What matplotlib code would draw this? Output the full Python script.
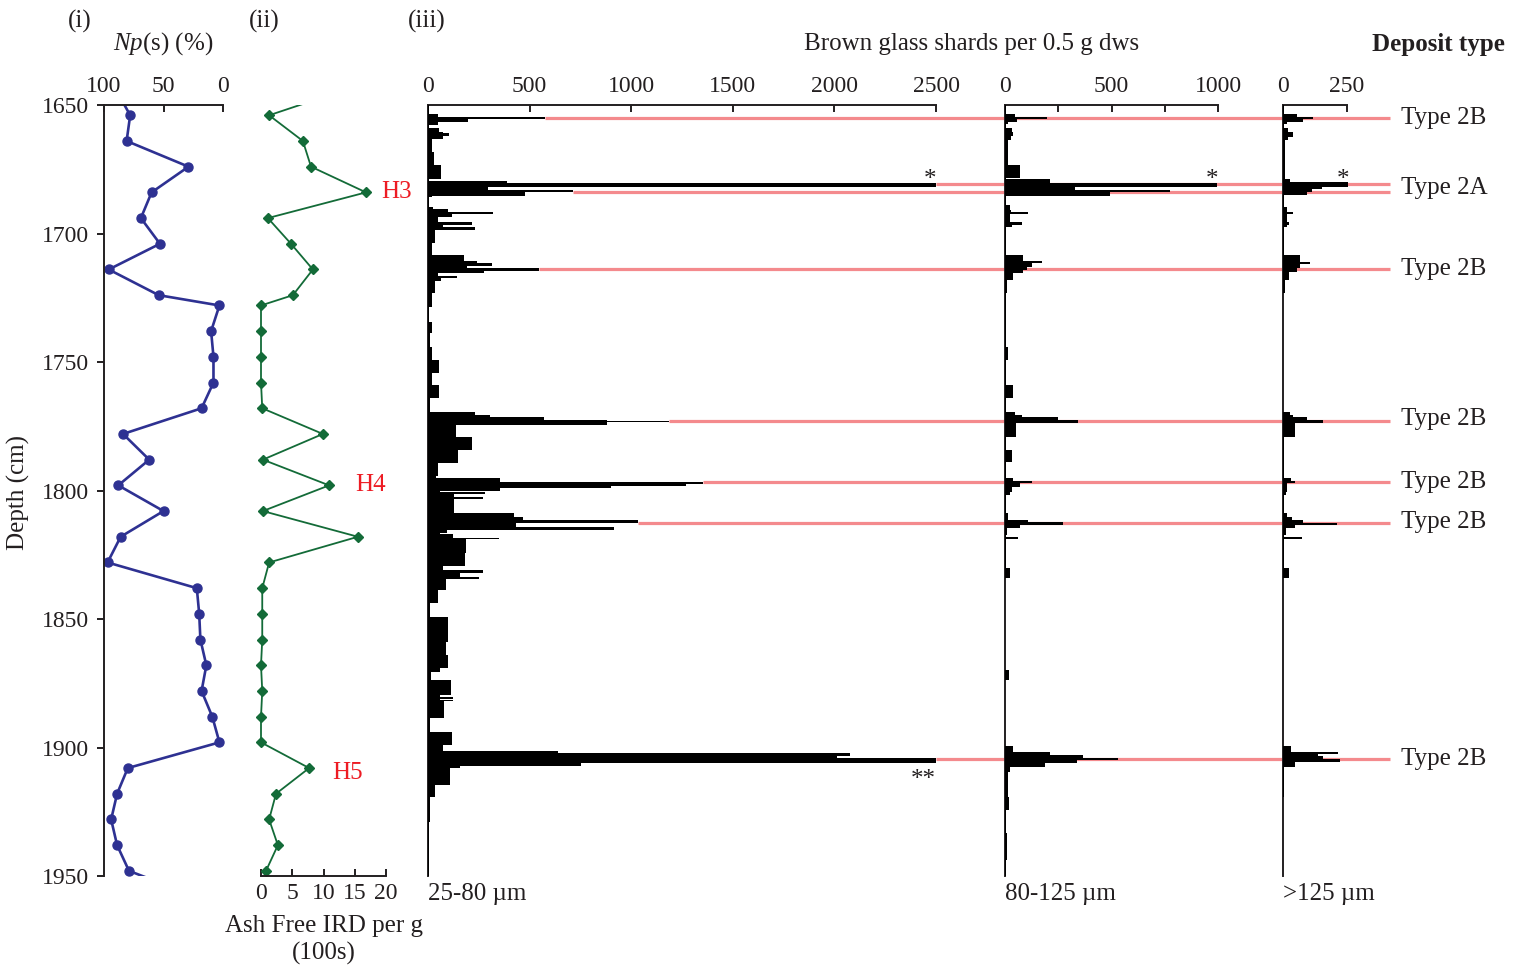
import numpy as np
import matplotlib
matplotlib.use('Agg')
import matplotlib.pyplot as plt
from matplotlib.transforms import blended_transform_factory
from matplotlib.patches import Rectangle

plt.rcParams['font.family'] = ['Liberation Serif', 'DejaVu Serif']
plt.rcParams['mathtext.fontset'] = 'custom'
plt.rcParams['mathtext.rm'] = 'Liberation Serif'
plt.rcParams['mathtext.it'] = 'Liberation Serif:italic'

# ---------------- data ----------------
np_depth = [1644, 1654, 1664, 1674, 1684, 1694, 1704, 1714, 1724, 1728, 1738, 1748, 1758,
            1768, 1778, 1788, 1798, 1808, 1818, 1828, 1838, 1848, 1858, 1868, 1878, 1888,
            1898, 1908, 1918, 1928, 1938, 1948, 1958]
np_percent = [90, 78, 81, 29, 60, 69, 53, 96, 54, 3, 10, 8, 8,
              18, 84, 62, 88, 50, 86, 97, 22, 20, 19, 14, 18, 9,
              3, 80, 89, 94, 89, 79, 23]

ird_depth = [1644, 1654, 1664, 1674, 1684, 1694, 1704, 1714, 1724, 1728, 1738, 1748, 1758,
             1768, 1778, 1788, 1798, 1808, 1818, 1828, 1838, 1848, 1858, 1868, 1878, 1888,
             1898, 1908, 1918, 1928, 1938, 1948]
ird_100s = [13.6, 1.3, 6.7, 8.0, 16.8, 1.1, 4.8, 8.3, 5.1, 0.0, 0.0, 0.0, 0.0,
            0.2, 9.9, 0.3, 10.9, 0.3, 15.5, 1.3, 0.2, 0.2, 0.2, 0.0, 0.2, 0.0,
            0.0, 7.7, 2.4, 1.3, 2.7, 0.8]

h_labels = ['H3', 'H4', 'H5']
h_depths = [1684, 1798, 1910]
h_xpos = [19.2, 15.0, 11.4]

# brown glass shards, 25-80 um  (bin top depth, count)
f1_top = [1650.0, 1653.5, 1654.5, 1655.6, 1656.6, 1657.8, 1659.1, 1660.4, 1661.0, 1662.1,
          1663.4, 1668.2, 1673.3, 1678.8, 1679.4, 1680.5, 1682.0, 1683.1, 1684.0, 1685.4,
          1685.9, 1689.6, 1690.6, 1691.6, 1692.5, 1693.4, 1695.4, 1696.7, 1697.6, 1698.6,
          1703.8, 1708.4, 1710.7, 1711.6, 1712.5, 1713.6, 1714.5, 1715.5, 1716.5, 1717.4,
          1718.4, 1723.3, 1728.5, 1734.3, 1738.8, 1744.0, 1749.2, 1754.4, 1758.9, 1764.1,
          1769.3, 1770.6, 1771.3, 1772.6, 1772.8, 1773.4, 1774.5, 1779.1, 1784.2, 1789.4,
          1794.4, 1795.3, 1796.6, 1797.5, 1798.2, 1799.2, 1800.1, 1800.5, 1801.4, 1802.4,
          1803.3, 1808.9, 1810.2, 1811.5, 1812.8, 1814.1, 1815.4, 1816.7, 1817.0, 1818.6,
          1819.0, 1824.4, 1829.4, 1830.9, 1832.2, 1833.5, 1834.3, 1838.7, 1843.9, 1849.1,
          1859.0, 1864.0, 1869.2, 1870.5, 1873.7, 1879.6, 1880.5, 1881.0, 1881.4, 1881.9,
          1888.6, 1894.0, 1899.0, 1901.2, 1902.3, 1903.3, 1904.2, 1906.2, 1907.2, 1908.1,
          1914.6, 1919.1, 1928.9]
f1_count = [3, 50, 576, 198, 50, 5, 54, 75, 103, 75,
            21, 28, 64, 5, 387, 2500, 297, 715, 477, 20,
            5, 26, 100, 321, 116, 48, 215, 75, 231, 34,
            21, 177, 240, 313, 190, 548, 277, 51, 141, 64,
            34, 21, 7, 18, 8, 21, 56, 21, 56, 10,
            230, 305, 572, 883, 1185, 883, 140, 215, 148, 50,
            37, 355, 1354, 1270, 900, 355, 60, 281, 130, 271,
            130, 422, 469, 1034, 432, 917, 93, 60, 121, 347,
            187, 183, 74, 271, 158, 252, 90, 50, 10, 97,
            90, 100, 60, 17, 115, 60, 123, 60, 123, 77,
            8, 117, 73, 642, 2079, 2013, 2500, 751, 158, 108,
            35, 8, 3]

# 80-125 um
f2_top = [1650.0, 1653.5, 1654.5, 1655.6, 1656.6, 1657.4, 1659.1, 1660.5, 1662.0, 1663.6,
          1673.3, 1678.5, 1678.9, 1680.2, 1681.8, 1683.1, 1684.0, 1685.4, 1688.9, 1690.9,
          1691.5, 1692.4, 1695.4, 1696.7, 1697.3, 1708.4, 1710.6, 1711.6, 1712.9, 1714.2,
          1715.5, 1718.1, 1723.3, 1744.0, 1749.2, 1758.9, 1764.1, 1769.3, 1770.6, 1771.5,
          1772.6, 1773.6, 1779.1, 1784.2, 1788.8, 1795.2, 1796.3, 1797.2, 1798.5, 1800.5,
          1801.8, 1808.9, 1811.5, 1812.3, 1813.4, 1814.7, 1817.3, 1817.9, 1818.9, 1830.3,
          1834.2, 1869.8, 1873.7, 1899.6, 1901.6, 1902.9, 1904.2, 1904.8, 1906.1, 1907.4,
          1909.4, 1919.1, 1924.3, 1933.4, 1943.8]
f2_count = [3, 47, 196, 55, 16, 5, 31, 39, 28, 16,
            70, 5, 211, 994, 329, 775, 493, 5, 23, 30,
            110, 23, 78, 31, 5, 83, 172, 125, 102, 86,
            39, 8, 3, 16, 5, 36, 5, 47, 78, 250,
            344, 52, 5, 31, 5, 39, 125, 70, 31, 23,
            5, 16, 110, 274, 70, 8, 3, 62, 3, 23,
            2, 20, 2, 39, 211, 368, 532, 336, 188, 23,
            16, 20, 3, 8, 3]

# >125 um
f3_top = [1650.0, 1653.5, 1654.5, 1655.6, 1656.6, 1657.4, 1659.1, 1660.7, 1662.3, 1663.6,
          1678.9, 1679.8, 1681.8, 1682.7, 1683.7, 1685.0, 1689.6, 1691.5, 1692.4, 1695.4,
          1696.7, 1697.3, 1708.4, 1711.0, 1711.9, 1713.6, 1714.9, 1718.1, 1723.3, 1769.3,
          1770.6, 1771.5, 1772.6, 1773.6, 1779.1, 1795.2, 1796.3, 1797.2, 1800.5, 1801.8,
          1808.9, 1810.2, 1811.5, 1812.5, 1813.4, 1814.7, 1817.3, 1817.9, 1818.9, 1830.3,
          1834.2, 1899.6, 1901.6, 1902.5, 1903.5, 1904.6, 1905.5, 1907.4, 1919.1]
f3_count = [3, 53, 118, 79, 17, 4, 21, 40, 21, 8,
            27, 255, 151, 112, 92, 4, 17, 38, 17, 25,
            14, 5, 66, 105, 66, 53, 25, 8, 1, 27,
            40, 92, 158, 47, 3, 30, 47, 17, 12, 3,
            14, 34, 79, 210, 47, 12, 3, 73, 3, 25,
            1, 30, 216, 138, 158, 221, 47, 4, 1]
bottom_depth = 1950.0

# cryptotephra events (red lines) and deposit types
event_depths = [1655.1, 1680.7, 1683.7, 1713.8, 1773.0, 1796.7, 1812.6, 1904.5]
deposit_labels = ['Type 2B', 'Type 2A', 'Type 2B', 'Type 2B', 'Type 2B', 'Type 2B', 'Type 2B']
deposit_depths = [1655.1, 1682.2, 1713.8, 1772.3, 1796.5, 1812.4, 1904.5]

# ---------------- figure ----------------
W, H = 1521, 971
fig = plt.figure(figsize=(W / 100, H / 100), dpi=100)
TXT = '#231f20'
FS = 17      # tick labels
LFS = 18     # other text
BLUE = '#2e3192'
GREEN = '#136b38'
RED_TXT = '#ed1c24'
RED_LINE = '#f48a8d'
SPW = 1.4

def fx(px):
    return px / W

def fy(py):
    return 1 - py / H

Y_TOP, Y_BOT = 105, 876

def add_ax(left, right):
    ax = fig.add_axes([fx(left), fy(Y_BOT), (right - left) / W, (Y_BOT - Y_TOP) / H])
    ax.set_facecolor('none')
    ax.set_ylim(1950, 1650)
    for s in ax.spines.values():
        s.set_linewidth(SPW)
        s.set_color(TXT)
    return ax

def vertical_clip(ax, artist):
    # clip only top/bottom (depth range), allow markers to overhang sideways
    tr = blended_transform_factory(ax.transAxes, ax.transAxes)
    rect = Rectangle((-0.5, 0), 2.0, 1.0, transform=tr, facecolor='none', edgecolor='none')
    artist.set_clip_path(rect)

# (i) Np(s)
ax1 = add_ax(104, 223)
l1, = ax1.plot(np_percent, np_depth, color=BLUE, lw=1.9, marker='o', ms=6.5)
vertical_clip(ax1, l1)
ax1.set_xlim(100, 0)
ax1.spines['right'].set_visible(False)
ax1.spines['bottom'].set_visible(False)
ax1.xaxis.tick_top()
ax1.set_xticks([100, 50, 0])
ax1.set_yticks(np.arange(1650, 1951, 50))
ax1.tick_params(axis='x', direction='in', length=5, width=SPW, pad=6, labelsize=FS, colors=TXT)
ax1.tick_params(axis='y', direction='out', length=5, width=SPW, pad=6, labelsize=FS, colors=TXT)

# (ii) IRD
ax2 = add_ax(261, 386)
l2, = ax2.plot(ird_100s, ird_depth, color=GREEN, lw=1.3, marker='D', ms=5.5)
vertical_clip(ax2, l2)
ax2.set_xlim(0, 20)
for s in ['top', 'left', 'right']:
    ax2.spines[s].set_visible(False)
ax2.set_yticks([])
ax2.set_xticks([0, 5, 10, 15, 20])
ax2.tick_params(axis='x', direction='in', length=5, width=SPW, pad=5, labelsize=FS, colors=TXT)
for lab, d, xv in zip(h_labels, h_depths, h_xpos):
    ax2.text(xv, d, lab, color=RED_TXT, fontsize=LFS, ha='left', va='center', clip_on=False)

# (iii) shards
def shard_ax(left, right, tops, counts, xmax, major, minor=None):
    ax = add_ax(left, right)
    edges = list(tops) + [bottom_depth]
    ax.stairs(counts, edges, orientation='horizontal', baseline=0, fill=True,
              color='black', zorder=3, clip_on=False)
    ax.set_xlim(0, xmax)
    ax.spines['right'].set_visible(False)
    ax.spines['bottom'].set_visible(False)
    ax.xaxis.tick_top()
    ax.set_xticks(major)
    if minor is not None:
        ax.set_xticks(minor, minor=True)
    ax.set_yticks([])
    ax.tick_params(axis='x', which='both', direction='in', length=5, width=SPW, pad=6,
                   labelsize=FS, colors=TXT)
    return ax

ax3 = shard_ax(428, 936, f1_top, f1_count, 2500, [0, 500, 1000, 1500, 2000, 2500])
ax4 = shard_ax(1005, 1218, f2_top, f2_count, 1000, [0, 500, 1000], [250, 750])
ax5 = shard_ax(1283, 1347, f3_top, f3_count, 250, [0, 250])

# red event lines: start at the 25-80 bar tip and run to the deposit-type column
x_end = ax3.transData.inverted().transform(fig.transFigure.transform((fx(1390), 0.5)))[0]
edges1 = np.array(list(f1_top) + [bottom_depth])
for d in event_depths:
    i = np.searchsorted(edges1, d) - 1
    ax3.plot([f1_count[i], x_end], [d, d], color=RED_LINE, lw=2.3, zorder=1,
             clip_on=False, solid_capstyle='butt')

# asterisks
ax3.text(2470, 1681.6, '*', fontsize=LFS, ha='center', va='baseline', color=TXT)
ax4.text(972, 1681.6, '*', fontsize=LFS, ha='center', va='baseline', color=TXT)
ax5.text(234, 1681.6, '*', fontsize=LFS, ha='center', va='baseline', color=TXT)
ax3.text(2436, 1915.0, '**', fontsize=LFS, ha='center', va='baseline', color=TXT)

# deposit type labels
tr = blended_transform_factory(fig.transFigure, ax3.transData)
for lab, d in zip(deposit_labels, deposit_depths):
    fig.text(fx(1401), d, lab, transform=tr, fontsize=LFS, ha='left', va='center', color=TXT)

# titles & labels
fig.text(fx(80), fy(21), '(i)', fontsize=LFS, ha='center', va='center', color=TXT)
fig.text(fx(264), fy(21), '(ii)', fontsize=LFS, ha='center', va='center', color=TXT)
fig.text(fx(427), fy(21), '(iii)', fontsize=LFS, ha='center', va='center', color=TXT)
fig.text(fx(163), fy(44), r'$\mathit{Np}$(s) (%)', fontsize=LFS, ha='center', va='center', color=TXT)
fig.text(fx(972), fy(44), 'Brown glass shards per 0.5 g dws', fontsize=LFS, ha='center',
         va='center', color=TXT)
fig.text(fx(1438), fy(44), 'Deposit type', fontsize=LFS, fontweight='bold', ha='center',
         va='center', color=TXT)
fig.text(fx(18), fy(493), 'Depth (cm)', fontsize=LFS, rotation=90, ha='center', va='center',
         color=TXT)
fig.text(fx(324), fy(940), 'Ash Free IRD per g\n(100s)', fontsize=LFS, ha='center',
         va='center', color=TXT, linespacing=1.3)
fig.text(fx(428), fy(894), '25-80 µm', fontsize=LFS, ha='left', va='center', color=TXT)
fig.text(fx(1005), fy(894), '80-125 µm', fontsize=LFS, ha='left', va='center', color=TXT)
fig.text(fx(1283), fy(894), '>125 µm', fontsize=LFS, ha='left', va='center', color=TXT)

fig.savefig('out.png', dpi=100)
